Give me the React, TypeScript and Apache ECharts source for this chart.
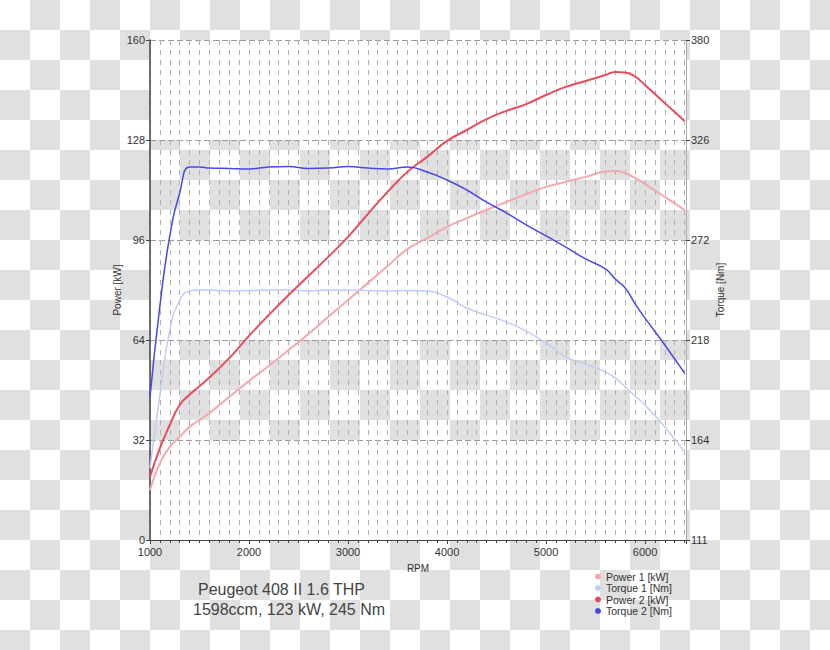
import React, { useEffect, useRef } from "react";
import * as echarts from "echarts";

const rpm = [1000, 1100, 1200, 1300, 1400, 1500, 1600, 1800, 2000, 2200, 2400, 2600, 2800, 3000, 3200, 3400, 3600, 3800, 4000, 4200, 4400, 4600, 4800, 5000, 5200, 5400, 5600, 5700, 5800, 5900, 6000, 6200, 6400];
const power1 = [16, 24.6, 29.8, 33, 36.2, 38.4, 40.6, 45.8, 50.9, 55.7, 60.8, 65.9, 71.4, 76.8, 82.2, 87.7, 93.1, 96.6, 100.2, 103, 105.6, 108.2, 110.7, 113, 114.6, 116.2, 117.9, 118.1, 117.4, 115.8, 113.9, 109.8, 105.6];
const torque1 = [149.7, 189, 224, 240, 245, 245.5, 245.5, 245, 245.2, 245.5, 245.5, 245, 245.5, 245.5, 245.2, 245, 245.2, 245, 241.7, 235.8, 232, 228.3, 223.4, 217, 209.5, 205.7, 201.4, 198.2, 193.3, 188.5, 183.6, 171.8, 158.3];
const power2 = [20.2, 29.4, 36.8, 43.2, 46.5, 49.2, 52, 58.2, 65.3, 72, 78.4, 84.5, 90.6, 97, 104.3, 111.4, 117.8, 122.6, 127.7, 131.2, 134.7, 137.3, 139.5, 142.4, 145, 146.9, 148.8, 149.8, 149.6, 148.3, 145.6, 139.8, 134.1];
const torque2 = [187.9, 237, 274.6, 297.7, 311.7, 311.7, 311.1, 310.9, 310.6, 311.7, 312, 310.9, 311.1, 312, 311.1, 310.6, 311.7, 309, 304.7, 299.3, 292.8, 287, 280.5, 274.6, 268.6, 262.2, 256.8, 251.4, 246.6, 238, 230.4, 215.9, 200.8];

const seriesNames = ["Power 1 [kW]", "Torque 1 [Nm]", "Power 2 [kW]", "Torque 2 [Nm]"];
const titleLines = ["Peugeot 408 II 1.6 THP", "1598ccm, 123 kW, 245 Nm"];

const FONT = "Liberation Sans, Arial, sans-serif";

export default function App() {
  const ref = useRef<HTMLDivElement>(null);
  useEffect(() => {
    if (!ref.current) return;
    const chart = echarts.init(ref.current, null, { renderer: "svg" });
    const mk = (arr: number[]) => rpm.map((r, i) => [r, arr[i]]);
    const colors = ["#f4a8ae", "#c0cdf5", "#e84c5a", "#4848e6"];
    const widths = [2, 1.5, 2, 1.5];
    const data = [power1, torque1, power2, torque2];
    chart.setOption({
      animation: false,
      textStyle: { fontFamily: FONT },
      grid: { left: 150, top: 40, right: 144, bottom: 110 },
      legend: {
        orient: "vertical",
        left: 590,
        top: 566,
        itemWidth: 6,
        itemHeight: 6,
        itemGap: 0.5,
        icon: "circle",
        textStyle: { fontSize: 10.5, color: "#333", fontFamily: FONT, lineHeight: 11 },
        data: seriesNames,
      },
      xAxis: {
        type: "value",
        min: 1000,
        max: 6414,
        interval: 1000,
        name: "RPM",
        nameLocation: "middle",
        nameGap: 23,
        nameMoveOverlap: false,
        nameTextStyle: { fontSize: 10, color: "#333" },
        axisLine: { lineStyle: { color: "#444", width: 1.2 } },
        axisTick: { show: true, length: 4, lineStyle: { color: "#444" } },
        minorTick: { show: true, splitNumber: 10, length: 3, lineStyle: { color: "#444" } },
        axisLabel: { fontSize: 11, color: "#333", margin: 6, showMaxLabel: false, formatter: (v: number) => String(v) },
        splitLine: { show: true, lineStyle: { color: "#b0b0b0", type: [5, 5], width: 1 } },
        minorSplitLine: { show: true, lineStyle: { color: "#b0b0b0", type: [5, 5], width: 1 } },
        z: 0,
      },
      yAxis: [
        {
          type: "value",
          min: 0,
          max: 160,
          interval: 32,
          name: "Power [kW]",
          nameLocation: "middle",
          nameGap: 28,
          nameMoveOverlap: false,
          nameTextStyle: { fontSize: 10, color: "#333" },
          axisLine: { show: true, lineStyle: { color: "#444", width: 1.5 } },
          axisTick: { show: true, length: 4, lineStyle: { color: "#444" } },
          axisLabel: { fontSize: 11, color: "#333", margin: 5 },
          splitLine: { show: true, lineStyle: { color: "#999", type: [6, 3], width: 1 } },
          splitArea: { show: true, areaStyle: { color: ["#ffffff", "rgba(255,255,255,0)"] } },
          z: 0,
        },
        {
          type: "value",
          min: 111,
          max: 380,
          interval: 53.8,
          position: "right",
          name: "Torque [Nm]",
          nameLocation: "middle",
          nameGap: 29,
          nameMoveOverlap: false,
          nameTextStyle: { fontSize: 10, color: "#333" },
          axisLine: { show: true, lineStyle: { color: "#aaa", width: 1 } },
          axisTick: { show: true, length: 4, lineStyle: { color: "#444" } },
          axisLabel: { fontSize: 11, color: "#333", margin: 5, formatter: (v: number) => String(Math.floor(v + 1e-6)) },
          splitLine: { show: false },
          z: 0,
        },
      ],
      series: seriesNames.map((name, i) => ({
        name,
        type: "line",
        yAxisIndex: i % 2,
        data: mk(data[i]),
        showSymbol: false,
        smooth: true,
        itemStyle: { color: colors[i] },
        lineStyle: { color: colors[i], width: widths[i] },
        z: 10 + i,
      })),
      graphic: [
        { type: "text", left: 198, top: 581, style: { text: titleLines[0], fontSize: 16, fill: "#444", fontFamily: FONT } },
        { type: "text", left: 193, top: 601, style: { text: titleLines[1], fontSize: 16, fill: "#444", fontFamily: FONT } },
      ],
    });
    return () => chart.dispose();
  }, []);
  return (
    <div
      style={{
        position: "absolute",
        left: 0,
        top: 0,
        width: 830,
        height: 650,
        background: "repeating-conic-gradient(#e0e0e0 0% 25%, #ffffff 0% 50%) 0 0 / 60px 60px",
      }}
    >
      <div ref={ref} style={{ width: 830, height: 650 }} />
    </div>
  );
}
